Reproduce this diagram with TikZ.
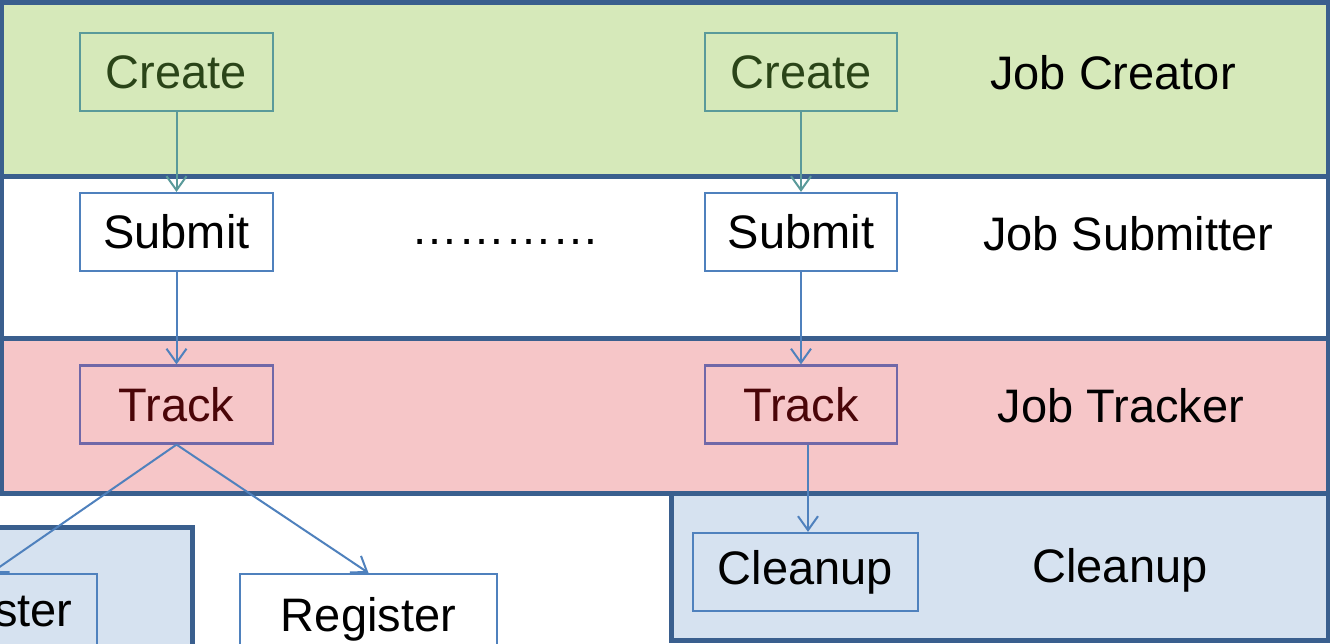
\documentclass[tikz,border=0pt]{standalone}
\usepackage{fontspec}
\setmainfont{Liberation Sans}
\usetikzlibrary{arrows.meta}
\definecolor{bandline}{HTML}{3A5F8E}
\definecolor{greenfill}{HTML}{D6E9BA}
\definecolor{redfill}{HTML}{F6C6C8}
\definecolor{bluefill}{HTML}{D6E2F0}
\definecolor{linkblue}{HTML}{4F81BD}
\definecolor{tealline}{HTML}{5A9A9A}
\definecolor{purpline}{HTML}{7068A8}
\definecolor{greentext}{HTML}{2A4418}
\definecolor{redtext}{HTML}{4A0508}
\tikzset{
  band/.style={draw=bandline, line width=5pt},
  box/.style={draw=linkblue, line width=2.2pt, minimum height=78pt, inner sep=0pt,
    font=\fontsize{47}{56}\selectfont},
  label/.style={font=\fontsize{47}{56}\selectfont, inner sep=0pt},
  link/.style={draw=linkblue, line width=2pt, -{Straight Barb[length=14pt,width=20pt,line width=2pt]}},
}
\begin{document}
\begin{tikzpicture}[x=1pt,y=-1pt]
\useasboundingbox (0,0) rectangle (1330,643);
\clip (0,0) rectangle (1330,643);
% bands
\fill[white] (0,0) rectangle (1330,643);
\path[band, fill=greenfill] (1.5,2) rectangle (1328,176);
\path[band, fill=white] (1.5,176) rectangle (1328,338);
\path[band, fill=redfill] (1.5,338) rectangle (1328,493);
\path[band, fill=bluefill] (671,493) rectangle (1328,640);
\path[band, fill=bluefill] (-20,527) rectangle (192,700);
% nodes
\node[box, draw=tealline, fill=greenfill, text=greentext, minimum width=193pt] (c1) at (176.5,72) {Create};
\node[box, draw=tealline, fill=greenfill, text=greentext, minimum width=192pt] (c2) at (801,72) {Create};
\node[box, fill=white, minimum width=193pt] (s1) at (176.5,232) {Submit};
\node[box, fill=white, minimum width=192pt] (s2) at (801,232) {Submit};
\node[box, draw=purpline, fill=redfill, text=redtext, minimum width=193pt] (t1) at (176.5,404.5) {Track};
\node[box, draw=purpline, fill=redfill, text=redtext, minimum width=192pt] (t2) at (801,404.5) {Track};
\node[box, fill=bluefill, minimum width=225pt] (cl) at (805.5,572) {Cleanup};
\node[box, fill=white, minimum width=257pt, minimum height=80pt, text depth=0pt] (r2) at (368.5,614) {Register};
\node[box, fill=bluefill, minimum width=224pt, minimum height=80pt] (r1) at (-15,614) {Register};
% labels
\node[label] (lc) at (1113,73) {Job Creator};
\node[label] (ls) at (1128,234) {Job Submitter};
\node[label] (lt) at (1121,406) {Job Tracker};
\node[label] (lcl) at (1120,570) {Cleanup};
\node[label] (dots) at (505,242) {…………};
% connectors
\draw[link, draw=tealline] (c1.south) -- (s1.north);
\draw[link, draw=tealline] (c2.south) -- (s2.north);
\draw[link] (s1.south) -- (t1.north);
\draw[link] (s2.south) -- (t2.north);
\coordinate (t2b) at ([xshift=7pt]t2.south);
\draw[link] (t2b) -- (t2b |- cl.north);
\draw[link] (t1.south) -- ([xshift=6pt]r1.north);
\draw[link] (t1.south) -- (r2.north);
\end{tikzpicture}
\end{document}
